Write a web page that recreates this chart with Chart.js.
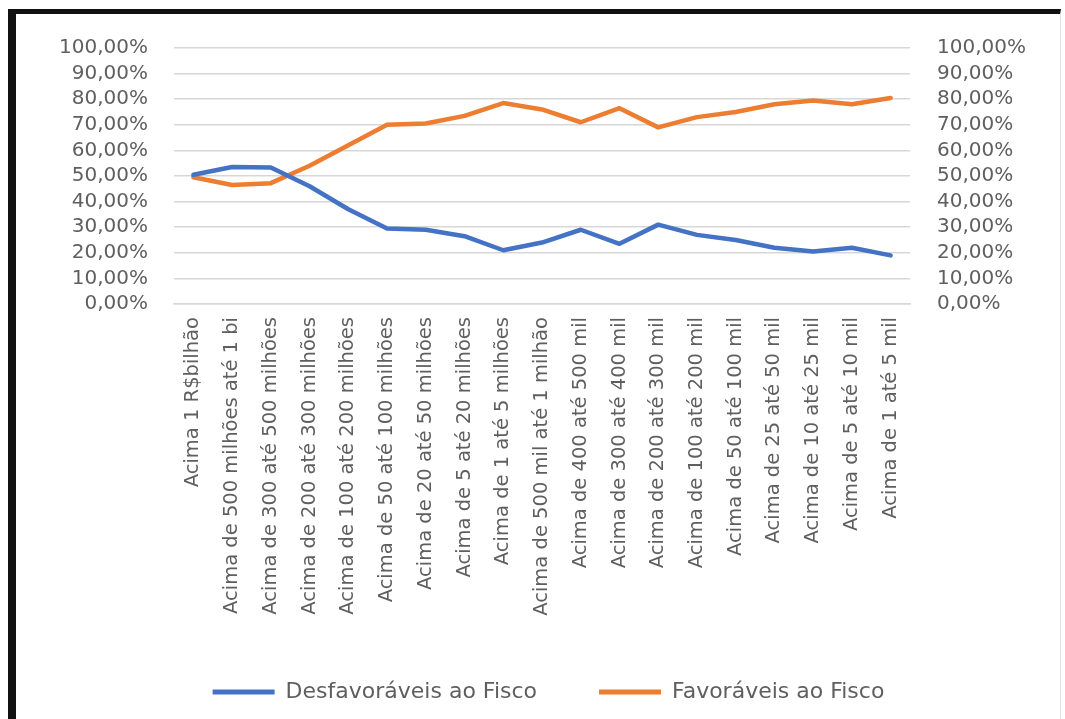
<!DOCTYPE html>
<html>
<head>
<meta charset="utf-8">
<script src="https://cdn.jsdelivr.net/npm/chart.js@4.4.1/dist/chart.umd.min.js"></script>
<style>
  html, body { margin: 0; padding: 0; background: #ffffff; }
  #wrap { position: relative; width: 1065px; height: 719px; overflow: hidden; }
  #chart { position: absolute; left: 0; top: 0; }
  #frame {
    position: absolute; left: 8px; top: 9px; width: 1053px; height: 720px;
    box-sizing: border-box;
    border-top: 5px solid #111111;
    border-left: 8px solid #111111;
    border-right: 1px solid #e4e4e4;
    pointer-events: none;
  }
</style>
</head>
<body>
<div id="wrap">
  <canvas id="chart" width="1065" height="719"></canvas>
  <div id="frame"></div>
</div>
<script>
// Faixas de valor (categorias do eixo X)
const categories = [
  "Acima 1 R$bilhão",
  "Acima de 500 milhões até 1 bi",
  "Acima de 300 até 500 milhões",
  "Acima de 200 até 300 milhões",
  "Acima de 100 até 200 milhões",
  "Acima de 50 até 100 milhões",
  "Acima de 20 até 50 milhões",
  "Acima de 5 até 20 milhões",
  "Acima de 1 até 5 milhões",
  "Acima de 500 mil até 1 milhão",
  "Acima de 400 até 500 mil",
  "Acima de 300 até 400 mil",
  "Acima de 200 até 300 mil",
  "Acima de 100 até 200 mil",
  "Acima de 50 até 100 mil",
  "Acima de 25 até 50 mil",
  "Acima de 10 até 25 mil",
  "Acima de 5 até 10 mil",
  "Acima de 1 até 5 mil"
];

// Percentual de decisões por faixa
const desfavoraveis = [50.5, 53.5, 53.3, 46.0, 37.0, 29.5, 29.0, 26.5, 21.0, 24.0, 29.0, 23.5, 31.0, 27.0, 25.0, 22.0, 20.5, 22.0, 19.0];
const favoraveis    = [49.5, 46.5, 47.2, 54.0, 62.0, 70.0, 70.5, 73.5, 78.5, 76.0, 71.0, 76.5, 69.0, 73.0, 75.0, 78.0, 79.5, 78.0, 80.5];

const seriesNames = ["Desfavoráveis ao Fisco", "Favoráveis ao Fisco"];
const seriesColors = ["#4472C4", "#ED7D31"];

// Rótulos do eixo Y: 0,00% ... 100,00%
const yTickValues = [0, 10, 20, 30, 40, 50, 60, 70, 80, 90, 100];
const fmtPct = v => v.toFixed(2).replace(".", ",") + "%";

const textColor = "#5f5f5f";
const gridColor = "#d7d7d7";
const yTickFont = { family: "DejaVu Sans", size: 20 };
const xTickFont = { family: "DejaVu Sans", size: 19.5 };

const yAxisBase = {
  min: 0,
  max: 100,
  afterBuildTicks: scale => { scale.ticks = yTickValues.map(v => ({ value: v })); },
  ticks: { color: textColor, font: yTickFont, autoSkip: false, callback: v => fmtPct(v) },
  border: { display: false }
};

new Chart(document.getElementById("chart"), {
  type: "line",
  data: {
    labels: categories,
    datasets: [
      {
        label: seriesNames[0],
        data: desfavoraveis,
        borderColor: seriesColors[0],
        backgroundColor: seriesColors[0],
        yAxisID: "y"
      },
      {
        label: seriesNames[1],
        data: favoraveis,
        borderColor: seriesColors[1],
        backgroundColor: seriesColors[1],
        yAxisID: "y"
      }
    ]
  },
  options: {
    responsive: false,
    animation: false,
    devicePixelRatio: 1,
    layout: { padding: { top: 48, left: 32, right: 0, bottom: 6 } },
    elements: {
      line: { borderWidth: 4.5, tension: 0, borderJoinStyle: "round", borderCapStyle: "round", fill: false },
      point: { radius: 0, hoverRadius: 0, pointStyle: "line", borderWidth: 5 }
    },
    scales: {
      x: {
        offset: true,
        grid: { display: false, drawTicks: false },
        border: { display: true, color: gridColor, width: 1.5 },
        ticks: {
          color: textColor,
          font: xTickFont,
          autoSkip: false,
          maxRotation: 90,
          minRotation: 90,
          padding: 13
        },
        afterFit: scale => { scale.height = 315; }
      },
      y: Object.assign({}, yAxisBase, {
        position: "left",
        grid: { color: gridColor, lineWidth: 1.5, drawTicks: false },
        ticks: Object.assign({}, yAxisBase.ticks, { padding: 26 }),
        afterFit: scale => { scale.width = 142; }
      }),
      y2: Object.assign({}, yAxisBase, {
        position: "right",
        grid: { display: false, drawTicks: false },
        ticks: Object.assign({}, yAxisBase.ticks, { padding: 27 }),
        afterFit: scale => { scale.width = 155; }
      })
    },
    plugins: {
      tooltip: { enabled: false },
      legend: {
        position: "bottom",
        labels: {
          color: textColor,
          font: { family: "DejaVu Sans", size: 22 },
          usePointStyle: true,
          pointStyle: "line",
          pointStyleWidth: 62,
          padding: 62
        }
      }
    }
  }
});
</script>
</body>
</html>
